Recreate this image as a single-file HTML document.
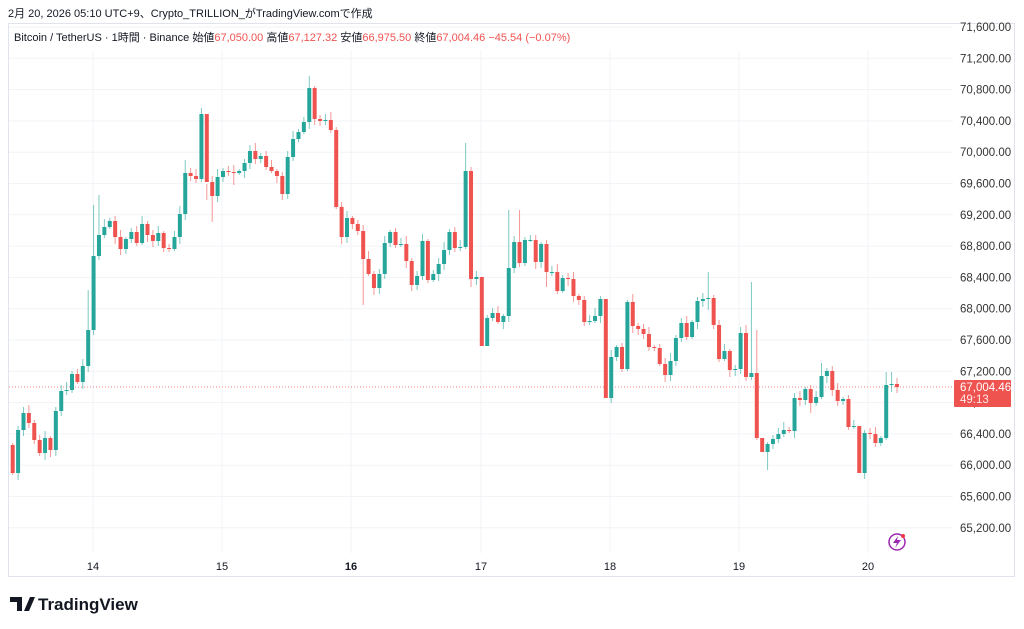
<!DOCTYPE html>
<html><head><meta charset="utf-8"><style>
body{margin:0;width:1024px;height:629px;background:#fff;overflow:hidden;font-family:"Liberation Sans","Noto Sans CJK JP",sans-serif}
svg{position:absolute;left:0;top:0}
.t{font-family:"Liberation Sans","Noto Sans CJK JP",sans-serif}
</style></head><body>
<svg id="s" width="1024" height="629" xmlns="http://www.w3.org/2000/svg"></svg>
<script>
const C=[473,430,413,423,440,453,438,450,411,391,390,374,382,366,330,256,235,227,221,237,249,239,232,243,224,235,241,233,248,249,237,214,173,176,179,114,182,196,177,171,172,173,171,163,151,159,156,167,171,176,194,157,139,132,122,88,119,121,120,130,207,237,218,224,231,259,274,288,274,243,232,245,244,261,285,276,241,280,274,264,250,232,248,247,171,279,277,346,318,313,322,316,268,242,263,240,240,262,244,272,272,291,278,279,296,300,322,321,316,299,398,357,347,369,302,326,329,334,347,348,364,375,361,338,323,337,322,301,299,298,325,359,351,370,369,333,377,373,438,452,444,439,434,430,431,398,400,389,403,397,376,371,390,401,399,427,426,473,433,434,443,438,385,384,387];
const HI={55:76,84:143,35:108,32:160,15:205,14:290,87:365,110:418,157:494,129:272,137:282,162:372,139:475,138:330,36:200,92:210,94:210,97:235,114:300,150:363,16:195,163:372,164:378};
const LO={0:475,87:365,110:418,157:494,139:475,140:470,99:287,65:305,85:287,37:222,6:460,41:185,88:340,148:413,129:310};
let s='';
s+=`<rect x="8.5" y="23.5" width="1006" height="553" fill="none" stroke="#e0e3eb"/>`;
for(let i=0;i<17;i++){const y=27+i*31.3;s+=`<line x1="9" x2="953" y1="${y}" y2="${y}" stroke="#f2f3f6"/>`;
const p=(71600-400*i).toLocaleString('en-US')+'.00';s+=`<text x="960" y="${y+4}" font-size="11.5" fill="#333" class="t">${p}</text>`;}
const days=[[93,'14'],[222,'15'],[351,'16'],[481,'17'],[610,'18'],[739,'19'],[868,'20']];
for(const [x,l] of days){s+=`<line x1="${x}" x2="${x}" y1="50" y2="553" stroke="#f2f3f6"/><text x="${x}" y="570" font-size="11" text-anchor="middle" fill="#131722" ${l=='16'?'font-weight="bold"':''} class="t">${l}</text>`;}
s+=`<line x1="9" x2="953" y1="387" y2="387" stroke="#ef5350" stroke-dasharray="1,2" opacity=".7"/>`;
let o=445;
for(let i=0;i<C.length;i++){const x=12.7+i*5.392,c=C[i];const up=c<=o;const col=up?'#26a69a':'#ef5350';
let t=Math.min(o,c),b=Math.max(o,c);const r=((i*37)%7);
let h=HI[i]!==undefined?HI[i]:t-2-r;let l=LO[i]!==undefined?LO[i]:b+2+((i*53)%6);
s+=`<line x1="${x}" x2="${x}" y1="${h}" y2="${l}" stroke="${col}" opacity=".6"/>`;
s+=`<rect x="${x-2}" y="${t}" width="4" height="${Math.max(1,b-t)}" fill="${col}"/>`;o=c;}
s+=`<rect x="954" y="380" width="57" height="27" rx="1" fill="#ef5350"/><text x="960" y="391" font-size="11.5" fill="#fff" class="t">67,004.46</text><text x="960" y="403" font-size="11.5" fill="#fff" opacity=".85" class="t">49:13</text>`;
s+=`<text x="8" y="17" font-size="11" fill="#131722" class="t">2月 20, 2026 05:10 UTC+9、Crypto_TRILLION_がTradingView.comで作成</text>`;
s+=`<text x="14" y="41" font-size="11" class="t"><tspan fill="#131722">Bitcoin / TetherUS · 1時間 · Binance  始値</tspan><tspan fill="#ef5350">67,050.00</tspan><tspan fill="#131722">  高値</tspan><tspan fill="#ef5350">67,127.32</tspan><tspan fill="#131722">  安値</tspan><tspan fill="#ef5350">66,975.50</tspan><tspan fill="#131722">  終値</tspan><tspan fill="#ef5350">67,004.46  −45.54 (−0.07%)</tspan></text>`;
s+=`<circle cx="897" cy="542" r="8" fill="none" stroke="#9c27b0" stroke-width="1.5"/><path d="M898 536 L893 543 L897 543 L895 548 L901 540 L897 540 Z" fill="#9c27b0"/><circle cx="903" cy="536" r="2" fill="#f23645"/>`;
s+=`<path d="M10 597 h12 v14 h-5 v-9 h-7z M24 611 l6 -14 h5 l-6 14z" fill="#131722"/><text x="38" y="610" font-size="17" font-weight="bold" fill="#131722" class="t">TradingView</text>`;
document.getElementById('s').innerHTML=s;
</script>
</body></html>
